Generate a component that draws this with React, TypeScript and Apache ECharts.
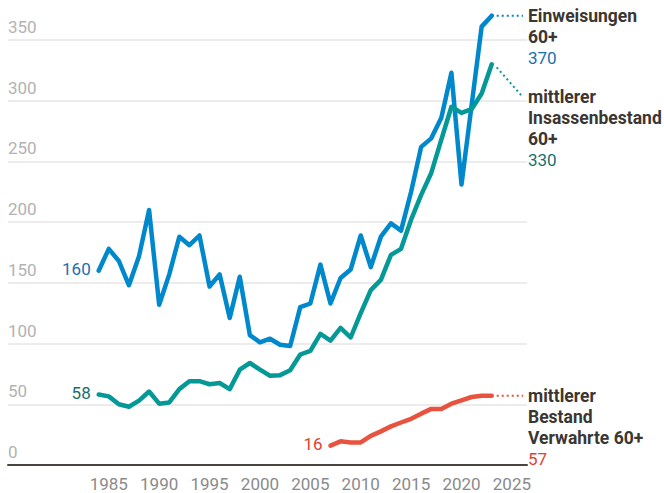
import React, { useEffect, useRef } from "react";
import * as echarts from "echarts";

// ---- data ----
const startYearMain = 1984;
const startYearVerwahrte = 2007;

// Einweisungen 60+ (1984–2023)
const einweisungen = [
  160, 178, 168, 148, 172, 210, 132, 157, 188, 181,
  189, 147, 157, 121, 155, 107, 101, 104, 99, 98,
  130, 133, 165, 133, 154, 161, 189, 163, 188, 199,
  193, 225, 262, 269, 286, 323, 231, 296, 361, 370,
];

// mittlerer Insassenbestand 60+ (1984–2023)
const insassen = [
  58, 56.5, 50, 48, 53, 60.5, 50.5, 51.5, 62.5, 69,
  69, 66.5, 67.5, 62.5, 78.5, 84, 78.5, 73.5, 74, 78,
  91, 94, 108, 102.5, 113, 105, 125, 144, 152.5, 173,
  178, 202, 222.5, 240.5, 268, 295, 290, 293, 306, 330,
];

// mittlerer Bestand Verwahrte 60+ (2007–2023)
const verwahrte = [
  16, 19.5, 18.6, 18.6, 24, 27.7, 31.8, 35, 38, 42.3,
  46.2, 46.2, 50.5, 53.2, 56, 57, 57,
];

const xLabelYears = [1985, 1990, 1995, 2000, 2005, 2010, 2015, 2020, 2025];
const yTickValues = [0, 50, 100, 150, 200, 250, 300, 350];

const labelEinweisungen = ["Einweisungen", "60+"];
const labelInsassen = ["mittlerer", "Insassenbestand", "60+"];
const labelVerwahrte = ["mittlerer", "Bestand", "Verwahrte 60+"];

// ---- styles ----
const FONT = "Roboto, 'Noto Sans', sans-serif";
const BLUE = "#0088cc";
const BLUE_TEXT = "#1a6fae";
const TEAL = "#049896";
const TEAL_TEXT = "#16706d";
const RED = "#e8533f";
const RED_TEXT = "#e23e31";
const DARK = "#3b3631";

const X_MIN = 1975;
const X_MAX = 2026.5;

const toPairs = (start: number, vals: number[]) => vals.map((v, i) => [start + i, v]);

export default function App() {
  const ref = useRef<HTMLDivElement>(null);

  useEffect(() => {
    if (!ref.current) return;
    const chart = echarts.init(ref.current, undefined, { renderer: "svg" });

    const lineSeries = (name: string, data: number[][], color: string) => ({
      name,
      type: "line",
      data,
      symbol: "none",
      clip: false,
      lineStyle: { color, width: 4.5, cap: "round", join: "round" },
      emphasis: { disabled: true },
      z: 3,
    });

    const seriesDefs = [
      { name: "Einweisungen 60+", data: toPairs(startYearMain, einweisungen), color: BLUE, text: BLUE_TEXT, lines: labelEinweisungen, dy: 0 },
      { name: "mittlerer Insassenbestand 60+", data: toPairs(startYearMain, insassen), color: TEAL, text: TEAL_TEXT, lines: labelInsassen, dy: 33 },
      { name: "mittlerer Bestand Verwahrte 60+", data: toPairs(startYearVerwahrte, verwahrte), color: RED, text: RED_TEXT, lines: labelVerwahrte, dy: 0 },
    ];

    chart.setOption({
      animation: false,
      grid: { left: 8, right: 137, top: 40, bottom: 28, containLabel: false },
      xAxis: {
        type: "value",
        min: X_MIN,
        max: X_MAX,
        interval: 5,
        axisLine: { show: true, lineStyle: { color: "#4b4540", width: 2 } },
        axisTick: { show: false },
        splitLine: { show: false },
        axisLabel: {
          color: "#8a8a8a",
          fontFamily: FONT,
          fontSize: 17,
          margin: 10,
          showMinLabel: true,
          showMaxLabel: true,
          formatter: (v: number) => (xLabelYears.includes(v) ? String(v) : ""),
        },
      },
      yAxis: {
        type: "value",
        min: yTickValues[0],
        max: yTickValues[yTickValues.length - 1],
        interval: 50,
        axisLine: { show: false },
        axisTick: { show: false },
        splitLine: { show: true, lineStyle: { color: "#e6e6e6", width: 1.5 } },
        axisLabel: {
          inside: true,
          margin: 0,
          align: "left",
          verticalAlign: "bottom",
          color: "#b2b2b2",
          fontFamily: FONT,
          fontSize: 17,
          lineHeight: 20,
          padding: [0, 0, 3, 0],
        },
      },
      series: seriesDefs.map((s) => lineSeries(s.name, s.data, s.color)),
    });

    const toPx = (p: number[]) => chart.convertToPixel({ gridIndex: 0 }, p) as number[];
    const rightX = toPx([X_MAX, 0])[0];
    const LH = 21;
    const graphics: any[] = [];

    seriesDefs.forEach((s) => {
      const first = s.data[0];
      const last = s.data[s.data.length - 1];
      const fp = toPx(first);
      const lp = toPx(last);
      // start label
      graphics.push({
        type: "text",
        x: fp[0] - 8,
        y: fp[1] - 2,
        style: {
          text: String(first[1]),
          fill: s.text,
          font: `normal 17px ${FONT}`,
          align: "right",
          verticalAlign: "middle",
        },
        z: 10,
      });
      const labelX = rightX + 1;
      const centerY = lp[1] + s.dy;
      // leader line
      graphics.push({
        type: "line",
        shape: { x1: lp[0] + 5, y1: lp[1] + (s.dy ? 3 : 0), x2: labelX - 5, y2: centerY },
        style: { stroke: s.color, lineWidth: 2, lineDash: [2, 3] },
        z: 5,
      });
      // name lines
      graphics.push({
        type: "text",
        x: labelX,
        y: centerY - LH / 2,
        style: {
          text: s.lines.join("\n"),
          fill: DARK,
          font: `bold 17.5px ${FONT}`,
          lineHeight: LH,
          align: "left",
          verticalAlign: "top",
        },
        z: 10,
      });
      // value line
      graphics.push({
        type: "text",
        x: labelX,
        y: centerY - LH / 2 + s.lines.length * LH,
        style: {
          text: String(last[1]),
          fill: s.text,
          font: `normal 17px ${FONT}`,
          lineHeight: LH,
          align: "left",
          verticalAlign: "top",
        },
        z: 10,
      });
    });

    chart.setOption({ graphic: graphics });

    return () => chart.dispose();
  }, []);

  return (
    <div
      ref={ref}
      style={{ position: "absolute", left: 0, top: 0, width: 664, height: 493 }}
    />
  );
}
